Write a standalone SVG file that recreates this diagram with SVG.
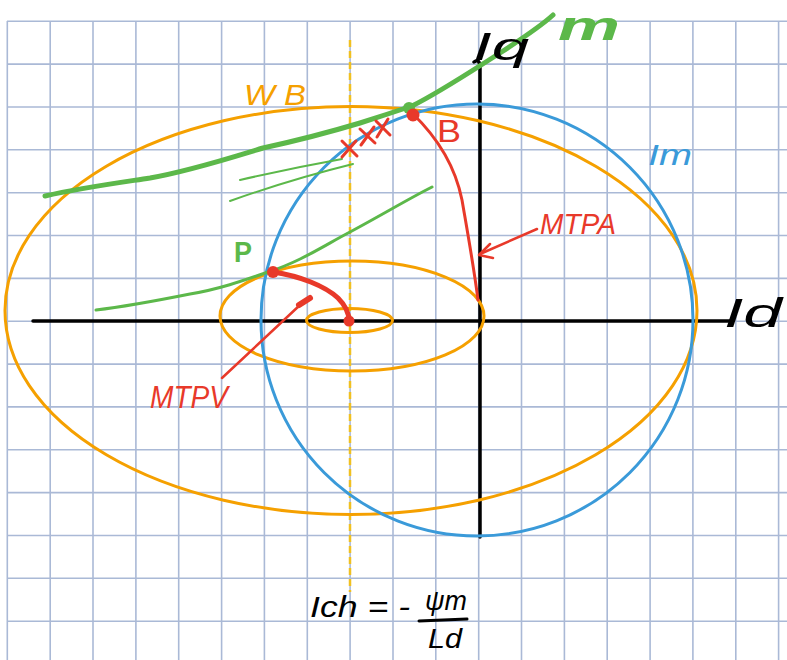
<svg xmlns="http://www.w3.org/2000/svg" width="787" height="660" viewBox="0 0 787 660">
<style>
.grid line{stroke:#aab9d6;stroke-width:1.6}
.ax{stroke:#000;stroke-width:3.5;fill:none;stroke-linecap:round}
.org{fill:none;stroke:#f5a000;stroke-width:3}
.blu{fill:none;stroke:#3a9ad9;stroke-width:3}
.grn{fill:none;stroke:#5cb84a;stroke-linecap:round;stroke-linejoin:round}
.red{fill:none;stroke:#e8392a;stroke-linecap:round;stroke-linejoin:round}
text{font-family:"Liberation Sans",Arial,sans-serif}
.tb{fill:#000}
.tr{fill:#e8392a}
.tg{fill:#5cb84a}
.to{fill:#f5a000}
.tbl{fill:#3a9ad9}
</style>
<rect width="787" height="660" fill="#fff"/>
<g id="grid" class="grid">
<line x1="7.3" y1="21" x2="7.3" y2="660"/><line x1="50.2" y1="21" x2="50.2" y2="660"/><line x1="93" y1="21" x2="93" y2="660"/><line x1="135.9" y1="21" x2="135.9" y2="660"/><line x1="178.7" y1="21" x2="178.7" y2="660"/><line x1="221.6" y1="21" x2="221.6" y2="660"/><line x1="264.4" y1="21" x2="264.4" y2="660"/><line x1="307.3" y1="21" x2="307.3" y2="660"/><line x1="350.1" y1="21" x2="350.1" y2="660"/><line x1="393" y1="21" x2="393" y2="660"/><line x1="435.8" y1="21" x2="435.8" y2="660"/><line x1="478.7" y1="21" x2="478.7" y2="660"/><line x1="521.5" y1="21" x2="521.5" y2="660"/><line x1="564.4" y1="21" x2="564.4" y2="660"/><line x1="607.2" y1="21" x2="607.2" y2="660"/><line x1="650.1" y1="21" x2="650.1" y2="660"/><line x1="692.9" y1="21" x2="692.9" y2="660"/><line x1="735.8" y1="21" x2="735.8" y2="660"/><line x1="778.6" y1="21" x2="778.6" y2="660"/>
<line x1="7" y1="21.3" x2="787" y2="21.3"/><line x1="7" y1="64.1" x2="787" y2="64.1"/><line x1="7" y1="107" x2="787" y2="107"/><line x1="7" y1="149.8" x2="787" y2="149.8"/><line x1="7" y1="192.7" x2="787" y2="192.7"/><line x1="7" y1="235.5" x2="787" y2="235.5"/><line x1="7" y1="278.4" x2="787" y2="278.4"/><line x1="7" y1="321.2" x2="787" y2="321.2"/><line x1="7" y1="364.1" x2="787" y2="364.1"/><line x1="7" y1="406.9" x2="787" y2="406.9"/><line x1="7" y1="449.8" x2="787" y2="449.8"/><line x1="7" y1="492.6" x2="787" y2="492.6"/><line x1="7" y1="535.5" x2="787" y2="535.5"/><line x1="7" y1="578.3" x2="787" y2="578.3"/><line x1="7" y1="621.2" x2="787" y2="621.2"/>
</g>
<g id="axes">
<line class="ax" x1="33" y1="321" x2="732" y2="321"/>
<path class="ax" d="M480,537 L480,66 Q479,58 474,62"/>
</g>
<g id="ich-line">
<line x1="350" y1="40" x2="350" y2="592" stroke="#f0c020" stroke-width="2.5" stroke-dasharray="7 4"/>
</g>
<g id="wb-ellipse"><ellipse class="org" cx="351" cy="310.5" rx="346" ry="204"/></g>
<g id="mid-ellipse"><ellipse class="org" cx="352" cy="316" rx="132" ry="55"/></g>
<g id="small-ellipse"><ellipse class="org" cx="349.5" cy="320.5" rx="43" ry="12"/></g>
<g id="im-circle"><circle class="blu" cx="477" cy="320" r="216"/></g>
<g id="m-line">
<path class="grn" stroke-width="5" d="M45,196 C80,188 110,184 150,178 C190,171 230,158 263,148 C300,140 330,132 360,123 C385,115 400,110 412,106 C440,92 470,72 500,53 C520,40 540,27 553,15"/>
<circle cx="409" cy="108" r="6" fill="#5cb84a"/>
</g>
<g id="thin-lines">
<path class="grn" stroke-width="2" d="M240,180 Q292,168 342,159"/>
<path class="grn" stroke-width="2" d="M230,201 Q292,179 353,164"/>
<path class="grn" stroke-width="3" d="M96,310 C130,306 160,300 190,294 C220,289 245,280 268,272 C300,262 325,245 350,232 C380,216 410,198 432,187"/>
</g>
<g id="mtpa">
<path class="red" stroke-width="3" d="M412,113 C438,138 455,165 462,200 C468,235 474,268 478,300"/>
<circle cx="413" cy="115" r="6.5" fill="#e8392a"/>
</g>
<g id="crosses" class="red" stroke-width="3">
<path d="M342,141 L357,156 M356,141 L342,157"/>
<path d="M360,129 L375,143 M374,127 L361,145"/>
<path d="M376,121 L390,135 M388,119 L377,137"/>
</g>
<g id="mtpv">
<path class="red" stroke-width="5" d="M273,272 C300,276 325,286 338,298 C346,306 349,314 349,321"/>
<circle cx="273" cy="272" r="6" fill="#e8392a"/>
<circle cx="349" cy="321" r="5.5" fill="#e8392a"/>
</g>
<g id="connectors">
<path class="red" stroke-width="2.5" d="M222,378 L300,305"/>
<path class="red" stroke-width="6" d="M299,305 L310,298"/>
<path class="red" stroke-width="2.5" d="M537,229 L480,254"/>
<path class="red" stroke-width="2.5" d="M490,244 L479,255 L493,258"/>
</g>
<g id="labels">
<text class="tg" x="558" y="40" font-size="40" font-weight="bold" font-style="italic" textLength="62" lengthAdjust="spacingAndGlyphs">m</text>
<text class="tb" x="473" y="60" font-size="38" font-style="italic" textLength="56" lengthAdjust="spacingAndGlyphs">Iq</text>
<text class="to" x="244" y="105" font-size="30" font-style="italic" textLength="62" lengthAdjust="spacingAndGlyphs">W B</text>
<text class="tbl" x="648" y="165" font-size="30" font-style="italic" textLength="44" lengthAdjust="spacingAndGlyphs">Im</text>
<text class="tr" x="437" y="142" font-size="32" textLength="24" lengthAdjust="spacingAndGlyphs">B</text>
<text class="tg" x="234" y="262" font-size="29" font-weight="bold" textLength="18" lengthAdjust="spacingAndGlyphs">P</text>
<text class="tr" x="540" y="234" font-size="29" font-style="italic" textLength="76" lengthAdjust="spacingAndGlyphs">MTPA</text>
<text class="tr" x="150" y="408" font-size="31" font-style="italic" textLength="78" lengthAdjust="spacingAndGlyphs">MTPV</text>
<text class="tb" x="724" y="327" font-size="40" font-style="italic" textLength="58" lengthAdjust="spacingAndGlyphs">Id</text>
<text class="tb" x="310" y="617" font-size="30" font-style="italic" textLength="100" lengthAdjust="spacingAndGlyphs">Ich = -</text>
<text class="tb" x="425" y="610" font-size="28" font-style="italic" textLength="42" lengthAdjust="spacingAndGlyphs">ψm</text>
<line x1="419" y1="621" x2="467" y2="619" stroke="#000" stroke-width="3" stroke-linecap="round"/>
<text class="tb" x="428" y="648" font-size="28" font-style="italic" textLength="34" lengthAdjust="spacingAndGlyphs">Ld</text>
</g>
</svg>
